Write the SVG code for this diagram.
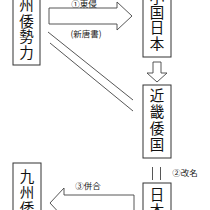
<svg xmlns="http://www.w3.org/2000/svg" width="210" height="210" viewBox="0 0 210 210">
<style>
.box{fill:#fff;stroke:#333;stroke-width:1}
.arr{fill:#fff;stroke:#444;stroke-width:0.9}
.ln{stroke:#444;stroke-width:0.9;fill:none}
.ch{font-family:"Noto Sans CJK JP","Noto Sans CJK SC",sans-serif;font-size:14.5px;fill:#111;text-anchor:middle}
.lb{font-family:"Noto Sans CJK JP","Noto Sans CJK SC",sans-serif;font-size:8.5px;fill:#222;text-anchor:middle}
</style>
<rect width="210" height="210" fill="#fff"/>
<g id="connectors">
<polygon class="arr" points="49,8 117,8 117,2 132,16 117,30 117,24 49,24"/>
<text class="lb" x="84" y="6.5">①東侵</text>
<text class="lb" x="86" y="37">(新唐書)</text>
<line class="ln" x1="48" y1="32" x2="133" y2="100"/>
<line class="ln" x1="50" y1="43" x2="133" y2="111"/>
<polygon class="arr" points="153,62 161,62 161,73 167,73 157,82 147,73 153,73"/>
<line class="ln" x1="152.5" y1="167" x2="152.5" y2="180"/>
<line class="ln" x1="160.5" y1="167" x2="160.5" y2="180"/>
<text class="lb" x="185" y="176">②改名</text>
<polygon class="arr" points="134,213 134,195 64,195 64,188 50,203 64,218 64,211 134,211"/>
<text class="lb" x="88" y="189">③併合</text>
</g>
<g id="kyushu-top">
<rect class="box" x="13" y="-5" width="27" height="70"/>
<text class="ch" x="26.5" y="11">州</text>
<text class="ch" x="26.5" y="27">倭</text>
<text class="ch" x="26.5" y="42">勢</text>
<text class="ch" x="26.5" y="58">力</text>
</g>
<g id="shokoku-nihon">
<rect class="box" x="143" y="-5" width="28" height="62"/>
<text class="ch" x="157" y="3">小</text>
<text class="ch" x="157" y="18">国</text>
<text class="ch" x="157" y="33">日</text>
<text class="ch" x="157" y="49">本</text>
</g>
<g id="kinki-wakoku">
<rect class="box" x="143" y="85" width="28" height="73"/>
<text class="ch" x="157" y="101">近</text>
<text class="ch" x="157" y="117">畿</text>
<text class="ch" x="157" y="134">倭</text>
<text class="ch" x="157" y="150">国</text>
</g>
<g id="nihon">
<rect class="box" x="143" y="183" width="28" height="35"/>
<text class="ch" x="157" y="200">日</text>
<text class="ch" x="157" y="216">本</text>
</g>
<g id="kyushu-bottom">
<rect class="box" x="13" y="163" width="28" height="55"/>
<text class="ch" x="27" y="182">九</text>
<text class="ch" x="27" y="198">州</text>
<text class="ch" x="27" y="214">倭</text>
</g>
</svg>
